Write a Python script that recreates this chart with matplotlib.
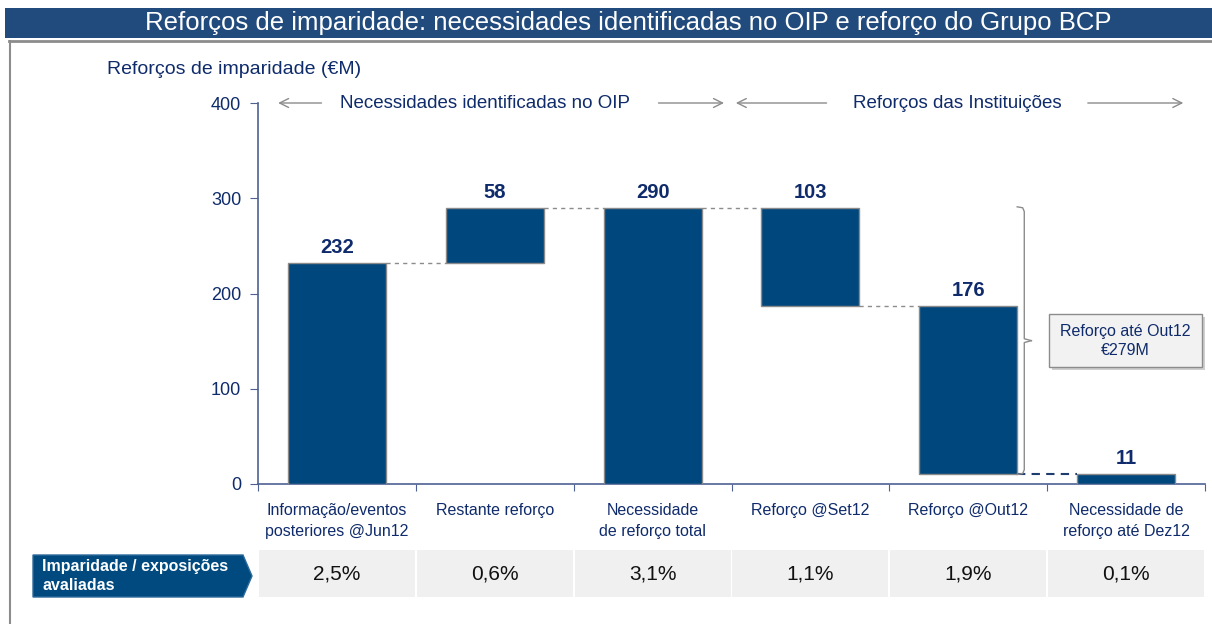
import numpy as np
import matplotlib
matplotlib.use("Agg")
import matplotlib.pyplot as plt
from matplotlib.patches import Rectangle, Polygon

plt.rcParams['font.family'] = ['Liberation Sans', 'DejaVu Sans']

# data
categories = ['Informação/eventos\nposteriores @Jun12', 'Restante reforço',
              'Necessidade\nde reforço total', 'Reforço @Set12',
              'Reforço @Out12', 'Necessidade de\nreforço até Dez12']
values = [232, 58, 290, 103, 176, 11]
kinds = ['total', 'up', 'total', 'down', 'down', 'total']
pct_labels = ['2,5%', '0,6%', '3,1%', '1,1%', '1,9%', '0,1%']
y_ticks = [0, 100, 200, 300, 400]
box_text = 'Reforço até Out12\n€279M'

NAVY = '#0F2B6B'
BAR = '#00477D'
GRAY = '#808080'
AXIS = '#4F6193'

# waterfall bottoms from running level
bottoms, level = [], 0
for v, k in zip(values, kinds):
    if k == 'total':
        bottoms.append(0)
        level = v
    elif k == 'up':
        bottoms.append(level)
        level += v
    else:
        level -= v
        bottoms.append(level)
tops = [b + v for b, v in zip(bottoms, values)]

W, H = 1212, 624
fig = plt.figure(figsize=(W / 100, H / 100), dpi=100)

# header bar and frame
fig.patches.append(Rectangle((5 / W, 1 - 38 / H), 1 - 5 / W, 30 / H, transform=fig.transFigure,
                             facecolor='#224B7D', edgecolor='none'))
fig.text(628 / W, 1 - 23 / H, 'Reforços de imparidade: necessidades identificadas no OIP e reforço do Grupo BCP',
         color='white', fontsize=18.5, ha='center', va='center')
fig.lines.append(plt.Line2D([9 / W, 1], [1 - 41 / H, 1 - 41 / H], transform=fig.transFigure,
                            color='#8C8C8C', lw=2))
fig.lines.append(plt.Line2D([9.5 / W, 9.5 / W], [0, 1 - 41 / H], transform=fig.transFigure,
                            color='#8C8C8C', lw=1.5))
fig.text(107 / W, 1 - 70 / H, 'Reforços de imparidade (€M)', color=NAVY, fontsize=14,
         ha='left', va='center')

# main axes
ax = fig.add_axes([258 / W, 140 / H, (1205 - 258) / W, (484 - 103) / H])
ax.set_xlim(0, 6)
ax.set_ylim(0, 400)
for s in ['top', 'right']:
    ax.spines[s].set_visible(False)
for s in ['left', 'bottom']:
    ax.spines[s].set_color(AXIS)
    ax.spines[s].set_linewidth(1.2)

x = np.arange(len(values)) + 0.5
bw = 0.62
ax.bar(x, values, bw, bottom=bottoms, color=BAR, edgecolor='#8A8A8A', linewidth=1, zorder=3)
for xi, t, v in zip(x, tops, values):
    ax.annotate(str(v), (xi, t), xytext=(0, 4), textcoords='offset points', ha='center',
                va='bottom', fontsize=14.5, fontweight='bold', color=NAVY)

# connectors
for i in range(len(values) - 1):
    yl = bottoms[i] if kinds[i] == 'down' else tops[i]
    last = i == len(values) - 2
    ax.plot([x[i] + bw / 2, x[i + 1] - bw / 2], [yl, yl],
            color='#1F3C6E' if last else '#8C8C8C',
            ls=(0, (4, 3)) if last else (0, (3, 3)), lw=1.5 if last else 1, zorder=2)

ax.set_yticks(y_ticks)
ax.set_xticks(range(7))
ax.set_xticklabels([])
ax.set_xticks(x, minor=True)
ax.set_xticklabels(categories, minor=True, fontsize=11.5, color=NAVY, linespacing=1.45)
ax.tick_params(axis='x', which='major', direction='out', length=5, color=AXIS)
ax.tick_params(axis='x', which='minor', length=0, pad=14)
ax.tick_params(axis='y', direction='out', length=6, color=AXIS, labelsize=13, labelcolor=NAVY, pad=6)

# top arrows
arrow = dict(arrowstyle='->', color='#8C8C8C', lw=1, mutation_scale=16)
ax.annotate('', (0.11, 400), (0.42, 400), arrowprops=arrow, annotation_clip=False)
ax.text(1.44, 400, 'Necessidades identificadas no OIP', ha='center', va='center', fontsize=13.5, color=NAVY)
ax.annotate('', (2.97, 400), (2.52, 400), arrowprops=arrow, annotation_clip=False)
ax.annotate('', (3.01, 400), (3.62, 400), arrowprops=arrow, annotation_clip=False)
ax.text(4.43, 400, 'Reforços das Instituições', ha='center', va='center', fontsize=13.5, color=NAVY)
ax.annotate('', (5.88, 400), (5.24, 400), arrowprops=arrow, annotation_clip=False)

# bracket
ytop, ybot = tops[2], bottoms[4]
ymid = (ytop + ybot) / 2
bx = 4.855
ax.plot([4.81, bx - 0.01, bx, bx, bx + 0.045], [ytop + 1, ytop, ytop - 4, ymid + 2, ymid],
        color='#8C8C8C', lw=1, clip_on=False, zorder=4)
ax.plot([4.81, bx - 0.01, bx, bx, bx + 0.045], [ybot - 1, ybot, ybot + 4, ymid - 2, ymid],
        color='#8C8C8C', lw=1, clip_on=False, zorder=4)

# callout box
ax.add_patch(Rectangle((5.03, 120), 0.97, 55, facecolor='#CFCFCF', edgecolor='none',
                       clip_on=False, zorder=4))
ax.add_patch(Rectangle((5.01, 123), 0.97, 55, facecolor='#F2F2F2', edgecolor='#8C8C8C',
                       lw=1, clip_on=False, zorder=5))
ax.text(5.495, 150.5, box_text, ha='center', va='center', fontsize=11.5, color=NAVY,
        linespacing=1.35, zorder=6)

# table row
tax = fig.add_axes([258 / W, (624 - 597) / H, (1205 - 258) / W, 47 / H])
tax.set_xlim(0, 6)
tax.set_ylim(0, 1)
tax.axis('off')
for i, p in enumerate(pct_labels):
    tax.add_patch(Rectangle((i + 0.006, 0), 0.988, 1, facecolor='#F0F0F0', edgecolor='none'))
    tax.text(i + 0.5, 0.5, p, ha='center', va='center', fontsize=15, color='#111111')

pts = [(33, 555), (243, 555), (252, 576), (243, 597), (33, 597)]
fig.patches.append(Polygon([(px / W, 1 - py / H) for px, py in pts], closed=True,
                           transform=fig.transFigure, facecolor='#004A80', edgecolor='#2C6A9A', lw=1))
fig.text(42 / W, 1 - 576 / H, 'Imparidade / exposições\navaliadas', color='white',
         fontsize=11.5, fontweight='bold', ha='left', va='center', linespacing=1.3)

fig.savefig('out.png', dpi=100)
